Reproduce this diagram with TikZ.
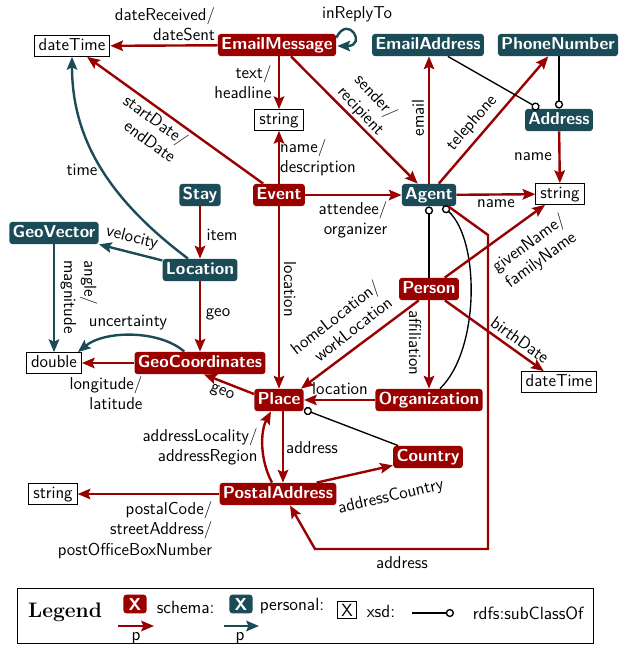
\documentclass[tikz,border=0pt]{standalone}
\usepackage{fontspec}
\usetikzlibrary{arrows.meta,calc}
\definecolor{schemared}{HTML}{990000}
\definecolor{perteal}{HTML}{1B4B57}
\newcommand\lblsize{\fontsize{11.5}{13.5}\selectfont}
\newcommand\legsize{\fontsize{11.8}{14}\selectfont}
\tikzset{
  sch/.style={fill=schemared, text=white, font=\sffamily\bfseries\lblsize, rounded corners=2pt,
    inner xsep=2.2pt, inner ysep=2pt, text height=8.5pt, text depth=2.3pt},
  per/.style={sch, fill=perteal},
  xsd/.style={draw=black, fill=white, font=\sffamily\lblsize, inner xsep=3pt, inner ysep=1.8pt,
    text height=8pt, text depth=2.3pt, line width=0.6pt},
  redge/.style={draw=schemared, line width=1.6pt, -{Stealth[length=8.5pt,width=7pt,inset=1.5pt]}},
  tedge/.style={redge, draw=perteal},
  sub/.style={draw=black, line width=0.9pt, -{Circle[open, fill=white, length=5.5pt, width=5.5pt, line width=0.9pt]}},
  lbl/.style={font=\sffamily\lblsize, align=right, inner sep=1pt},
  leg/.style={font=\sffamily\legsize, inner sep=1pt},
}
\begin{document}
\begin{tikzpicture}[x=0.6667pt, y=-0.6667pt, font=\sffamily\lblsize]
\useasboundingbox (0,0) rectangle (619,645);
% nodes
\node[xsd] (dt1) at (72,46) {dateTime};
\node[sch] (em) at (277,45) {EmailMessage};
\node[per] (ea) at (428,45) {EmailAddress};
\node[per] (pn) at (558,45) {PhoneNumber};
\node[per] (adr) at (559,120) {Address};
\node[xsd] (s1) at (279,120) {string};
\node[sch] (ev) at (279,195) {Event};
\node[per] (stay) at (200,195) {Stay};
\node[per] (ag) at (429,195) {Agent};
\node[xsd] (s2) at (560,194) {string};
\node[per] (gv) at (54,233) {GeoVector};
\node[per] (loc) at (200,270) {Location};
\node[sch] (pers) at (429,289) {Person};
\node[xsd] (dbl) at (54,363) {double};
\node[sch] (gc) at (200,363) {GeoCoordinates};
\node[xsd] (dt2) at (559,382) {dateTime};
\node[sch] (pl) at (279,400) {Place};
\node[sch] (org) at (429,400) {Organization};
\node[sch] (cty) at (428,457) {Country};
\node[sch] (pa) at (278,494) {PostalAddress};
\node[xsd] (s3) at (53,494) {string};

% edges
\draw[redge] (em) -- (dt1);
\node[lbl] (l1) at (165,24) {dateReceived/\\dateSent};
\draw[tedge] ($(em.north east)+(0,4)$) .. controls +(12,-24) and +(30,0) .. ($(em.east)+(1,1)$);
\node[lbl] (l2) at (357,14) {inReplyTo};
\draw[redge] (em.south -| s1.north) -- (s1.north);
\node[lbl] (l3) at (243,82) {text/\\headline};
\draw[redge] ($(em.south)+(14,0)$) -- (ag);
\node[lbl, align=center, rotate=-47] (l4) at (368,104) {sender/\\recipient};
\draw[redge] (ev) -- (dt1);
\node[lbl, rotate=-36] (l5) at (150,128) {startDate/\\endDate};
\draw[redge] (ev) -- (s1);
\node[lbl, align=left] (l6) at (318,158) {name/\\description};
\draw[redge] (ev) -- (ag);
\node[lbl] (l7) at (353,220) {attendee/\\organizer};
\draw[redge] (ev) -- (pl);
\node[lbl, rotate=-90] (l8) at (290,289) {location};
\draw[redge] (stay) -- (loc);
\node[lbl] (l9) at (222,235) {item};
\draw[tedge] (loc) -- (gv);
\node[lbl, rotate=-14] (l10) at (132,238) {velocity};
\draw[tedge] ($(loc.north)+(-12,0)$) .. controls (110,200) and (72,140) .. (dt1.south);
\node[lbl] (l11) at (82,170) {time};
\draw[redge] (loc) -- (gc);
\node[lbl] (l12) at (218,314) {geo};
\draw[tedge] (gv) -- (dbl);
\node[lbl, align=left, rotate=-90] (l13) at (79,297) {angle/\\magnitude};
\draw[tedge] ($(gc.north west)+(50,0)$) .. controls (160,330) and (105,330) .. ($(dbl.north east)+(-4,0)$);
\node[lbl] (l14) at (128,323) {uncertainty};
\draw[redge] (gc) -- (dbl);
\node[lbl] (l15) at (106,393) {longitude/\\latitude};
\draw[redge] ($(pl.west)+(0,-6)$) -- ($(gc.south)+(4,0)$);
\node[lbl, rotate=-22] (l16) at (222,393) {geo};
\draw[redge] (ag.north) -- (ag.north |- ea.south);
\node[lbl, rotate=90] (l17) at (418,118) {email};
\draw[redge] (ag) -- (pn);
\node[lbl, rotate=49] (l18) at (472,123) {telephone};
\draw[redge] (ag) -- (s2);
\node[lbl] (l19) at (496,204) {name};
\draw[redge] (adr) -- (s2);
\node[lbl] (l20) at (533,157) {name};
\draw[sub] (ea) -- (adr);
\draw[sub] (pn.south -| adr.north) -- (adr.north);
\draw[sub] (pers) -- (ag);
\draw[sub] ($(org.north)+(11,0)$) .. controls (480,350) and (480,240) .. ($(ag.south)+(14,0)$);
\draw[redge] ($(ag.south east)+(-8,0)$) -- (488,235) -- (488,549) -- (315,549) -- ($(pa.south)+(12,0)$);
\node[lbl] (l21) at (402,563) {address};
\draw[redge] (pers) -- (s2);
\node[lbl, align=center, rotate=36] (l22) at (535,252) {givenName/\\familyName};
\draw[redge] ($(pers.south west)+(20,0)$) -- ($(pl.north east)+(-3,0)$);
\node[lbl, rotate=38] (l23) at (341,325) {homeLocation/\\workLocation};
\draw[redge] (pers) -- (org);
\node[lbl, rotate=-90] (l24) at (415,343) {affiliation};
\draw[redge] (pers) -- (dt2);
\node[lbl, rotate=-35.6] (l25) at (520,340) {birthDate};
\draw[redge] (org) -- (pl);
\node[lbl] (l26) at (340,389) {location};
\draw[sub] (cty) -- (pl);
\draw[redge] ($(pl.south)+(4,0)$) -- ($(pa.north)+(5,0)$);
\node[lbl] (l27) at (312,448) {address};
\draw[redge] ($(pa.north)+(-6,0)$) .. controls (260,460) and (260,432) .. ($(pl.south)+(-8,0)$);
\node[lbl] (l28) at (200,447) {addressLocality/\\addressRegion};
\draw[redge] ($(pa.north east)+(-20,0)$) -- ($(cty.south west)+(0,-3)$);
\node[lbl, rotate=13] (l29) at (391,497) {addressCountry};
\draw[redge] (pa) -- (s3);
\node[lbl] (l30) at (135,530) {postalCode/\\streetAddress/\\postOfficeBoxNumber};

% legend
\draw[line width=0.6pt] (17,588) rectangle (593,643);
\node[font=\rmfamily\bfseries\fontsize{14}{16}\selectfont] (lgt) at (65,612) {Legend};
\node[sch, inner xsep=3.5pt, inner ysep=2pt, text height=8.5pt, text depth=0pt] (lx1) at (135,604) {X};
\coordinate (la1) at (118,626); \coordinate (lb1) at (154,626);
\draw[redge] (la1) -- (lb1);
\node[leg] (lp1) at (136,638) {p};
\node[leg, anchor=west] (ls1) at (155,607) {schema:};
\node[per, inner xsep=3.5pt, inner ysep=2pt, text height=8.5pt, text depth=0pt] (lx2) at (241,604) {X};
\coordinate (la2) at (224,626); \coordinate (lb2) at (259,626);
\draw[tedge] (la2) -- (lb2);
\node[leg] (lp2) at (240,638) {p};
\node[leg, anchor=west] (ls2) at (258,606) {personal:};
\node[xsd, font=\sffamily\legsize, inner xsep=2.5pt, inner ysep=1.5pt, text height=8.5pt, text depth=0pt] (lx3) at (347,610) {X};
\node[leg, anchor=west] (ls3) at (365,611) {xsd:};
\coordinate (la3) at (412,613); \coordinate (lb3) at (454,613);
\draw[sub] (la3) -- (lb3);
\node[leg, anchor=west] (ls4) at (471,613) {rdfs:subClassOf};
\end{tikzpicture}
\end{document}
